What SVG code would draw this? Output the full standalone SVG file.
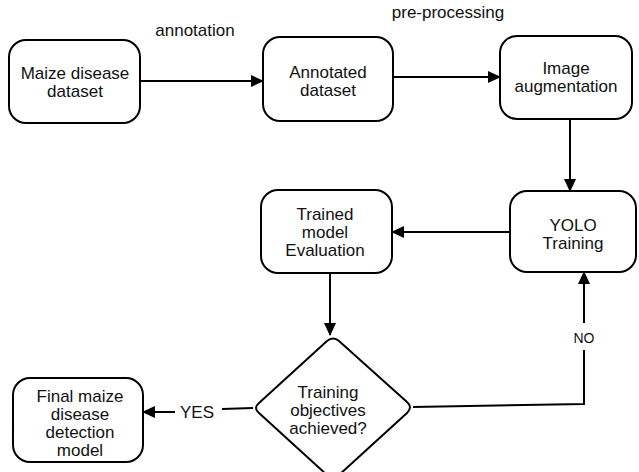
<svg xmlns="http://www.w3.org/2000/svg" width="639" height="472" viewBox="0 0 639 472">
<defs>
<marker id="arr" markerUnits="userSpaceOnUse" markerWidth="13" markerHeight="12" refX="12" refY="6" orient="auto">
<path d="M0,0 L13,6 L0,12 z" fill="#000"/>
</marker>
<style>
.box{fill:#fff;stroke:#000;stroke-width:2}
.t{font-family:"Liberation Sans",Arial,sans-serif;font-size:17px;fill:#111;text-anchor:middle}
.lbl{font-family:"Liberation Sans",Arial,sans-serif;font-size:17px;fill:#111;text-anchor:middle}
.c{fill:none;stroke:#000;stroke-width:2}
</style>
</defs>
<rect width="639" height="472" fill="#fff"/>
<g id="connectors">
<line class="c" x1="140" y1="81" x2="263" y2="81" marker-end="url(#arr)"/>
<line class="c" x1="393" y1="77" x2="500" y2="77" marker-end="url(#arr)"/>
<line class="c" x1="570" y1="119" x2="570" y2="191" marker-end="url(#arr)"/>
<line class="c" x1="510" y1="232" x2="392" y2="232" marker-end="url(#arr)"/>
<line class="c" x1="330" y1="273" x2="330" y2="335" marker-end="url(#arr)"/>
<line class="c" x1="253" y1="408" x2="222" y2="409"/>
<line class="c" x1="175" y1="412" x2="143" y2="412" marker-end="url(#arr)"/>
<polyline class="c" points="413,407 584,404 584,350"/>
<line class="c" x1="584" y1="323" x2="584" y2="272" marker-end="url(#arr)"/>
<text class="lbl" x="197" y="418">YES</text>
<text class="lbl" x="584" y="343" style="font-size:14px">NO</text>
<text class="lbl" x="195" y="36">annotation</text>
<text class="lbl" x="448" y="18">pre-processing</text>
</g>
<g id="maize-dataset">
<rect class="box" x="9" y="40" width="131" height="83" rx="17"/>
<text class="t" x="75" y="79">Maize disease</text>
<text class="t" x="75" y="97">dataset</text>
</g>
<g id="annotated-dataset">
<rect class="box" x="263" y="37" width="130" height="84" rx="17"/>
<text class="t" x="328" y="78">Annotated</text>
<text class="t" x="328" y="96">dataset</text>
</g>
<g id="image-augmentation">
<rect class="box" x="500" y="36" width="132" height="83" rx="17"/>
<text class="t" x="566" y="74">Image</text>
<text class="t" x="566" y="92">augmentation</text>
</g>
<g id="yolo-training">
<rect class="box" x="510" y="191" width="126" height="81" rx="17"/>
<text class="t" x="573" y="231">YOLO</text>
<text class="t" x="573" y="249">Training</text>
</g>
<g id="trained-evaluation">
<rect class="box" x="261" y="190" width="131" height="83" rx="17"/>
<text class="t" x="325" y="220">Trained</text>
<text class="t" x="325" y="238">model</text>
<text class="t" x="325" y="256">Evaluation</text>
</g>
<g id="decision">
<path class="box" d="M327,341 Q333,336 339,341 L407,402 Q413,407 407,413 L339,475 Q333,480 327,475 L259,413 Q253,408 259,403 Z"/>
<text class="t" x="328" y="398">Training</text>
<text class="t" x="328" y="416">objectives</text>
<text class="t" x="328" y="434">achieved?</text>
</g>
<g id="final-model">
<rect class="box" x="13" y="378" width="130" height="84" rx="17"/>
<text class="t" x="80" y="402">Final maize</text>
<text class="t" x="80" y="420">disease</text>
<text class="t" x="80" y="438">detection</text>
<text class="t" x="80" y="456">model</text>
</g>
</svg>
